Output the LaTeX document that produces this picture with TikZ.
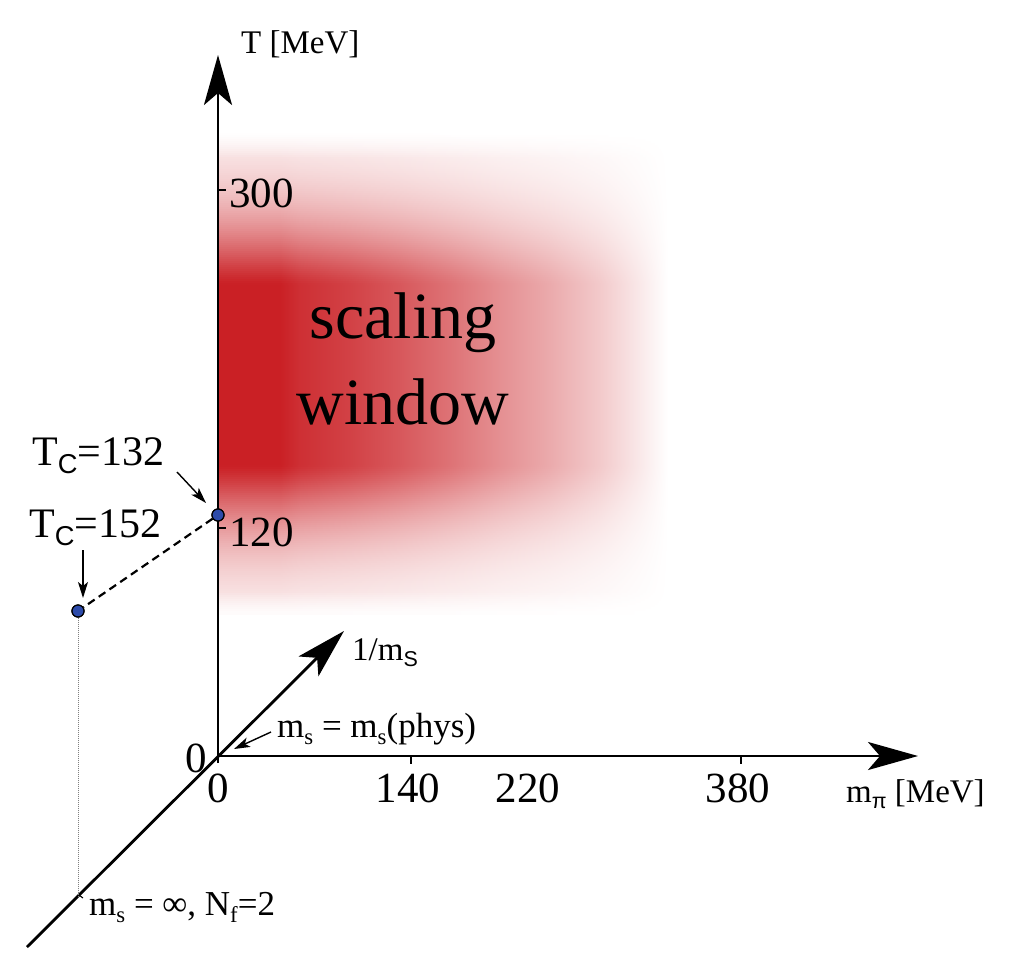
\documentclass[tikz,border=0pt]{standalone}
\usepackage{fontspec}
\usepackage{graphicx}
\setmainfont{Liberation Serif}
\newfontfamily\sansf{Liberation Sans}
\usetikzlibrary{arrows.meta}
\definecolor{wred}{RGB}{202,32,37}
\definecolor{dotblue}{RGB}{45,75,170}
\colorlet{stripc}{wred}
\pgfdeclarehorizontalshading[stripc]{stripsh}{100bp}{%
  color(0bp)=(stripc); color(25bp)=(stripc); color(31.9bp)=(stripc);
  color(34.1bp)=(stripc!93!white); color(39.7bp)=(stripc!85!white);
  color(45.2bp)=(stripc!75!white); color(50.8bp)=(stripc!63!white);
  color(56.3bp)=(stripc!50!white); color(61.9bp)=(stripc!38!white);
  color(67.4bp)=(stripc!24!white); color(71.9bp)=(stripc!10!white);
  color(75bp)=(white); color(100bp)=(white)}
\newcommand\lsub[1]{\raisebox{-0.2em}{\scalebox{0.65}{#1}}}
\begin{document}
\begin{tikzpicture}[x=1pt,y=-1pt,
  axis/.style={line width=2.8pt,-{Stealth[length=50pt,width=28pt,inset=12pt]}},
  smallarr/.style={line width=1.4pt,-{Stealth[length=16pt,width=10pt,inset=4pt]}},
  ticklbl/.style={inner sep=0pt,font=\fontsize{43}{50}\selectfont},
  axlbl/.style={inner sep=0pt,font=\fontsize{33}{40}\selectfont},
  note/.style={inner sep=0pt,font=\fontsize{35}{42}\selectfont},
  tclbl/.style={inner sep=0pt,font=\fontsize{42}{50}\selectfont},
  bigl/.style={inner sep=0pt,font=\fontsize{66}{80}\selectfont},
  tickmark/.style={line width=1.1pt},
  dot/.style={circle,minimum size=12pt,inner sep=0pt,fill=dotblue,draw=black,line width=1.2pt},
  dashln/.style={line width=2.2pt,dash pattern=on 8pt off 5pt},
  dotln/.style={line width=0.9pt,gray,dash pattern=on 1pt off 1pt}]
\useasboundingbox (0,0) rectangle (1016,966);
% red scaling window shading
\foreach \yy in {131,133,...,611} {
  \pgfmathsetmacro\dd{max(0,abs(\yy+1-375)-90)}
  \pgfmathsetmacro\vv{100*exp(-1*(\dd/75.5)^1.3)*min(1,max(0,(152-\dd)/25))}
  \colorlet{stripc}{wred!\vv!white}
  \shade[shading=stripsh] (218,\yy) rectangle (668,\yy+3);
}
% axes
\coordinate (O) at (218,756);
\coordinate (Ovt) at (218,763);
\coordinate (Ttip) at (218,55);
\coordinate (Xtip) at (918,756);
\coordinate (Dtip) at (344,631);
\coordinate (Dend) at (27,947);
\draw[axis] (Ovt) -- (Ttip);
\draw[axis] (O) -- (Xtip);
\draw[axis] (Dend) -- (Dtip);
% ticks
\draw[tickmark] (218,190) -- (226,190);
\draw[tickmark] (218,528) -- (226,528);
\draw[tickmark] (411,756) -- (411,764);
\draw[tickmark] (741,756) -- (741,764);
\draw[tickmark] (79,895) -- (83,898);
% tick labels
\node[ticklbl,anchor=base west] (t300) at (229,207) {300};
\node[ticklbl,anchor=base west] (t120) at (229,546) {120};
\node[ticklbl,anchor=base] (h140) at (408,802) {140};
\node[ticklbl,anchor=base] (h220) at (528,802) {220};
\node[ticklbl,anchor=base] (h380) at (738,802) {380};
\node[ticklbl,anchor=base] (z0b) at (218,802) {0};
\node[ticklbl,anchor=base] (z0l) at (196,772) {0};
% axis labels
\node[axlbl,anchor=base west] (Tlab) at (241,53) {T [MeV]};
\node[axlbl,anchor=base west] (mpi) at (846,802) {m\lsub{\sansf π} [MeV]};
\node[axlbl,anchor=base west] (invms) at (352,660) {1/m\lsub{\sansf S}};
\node[note,anchor=base west] (msphys) at (277,737) {m\lsub{s} = m\lsub{s}(phys)};
\node[note,anchor=base west] (msinf) at (89,915) {m\lsub{s} = ∞, N\lsub{f}=2};
% scaling window
\node[bigl,anchor=base] (sw1) at (403,338) {scaling};
\node[bigl,anchor=base] (sw2) at (403,424) {window};
% Tc points
\node[tclbl,anchor=base west] (tc132) at (32,465) {T\lsub{\sansf C}=132};
\node[tclbl,anchor=base west] (tc152) at (29,537) {T\lsub{\sansf C}=152};
\node[dot] (dA) at (218,515) {};
\node[dot] (dB) at (78,611) {};
\coordinate (dBfoot) at (78,896);
\draw[dotln] (dB) -- (dBfoot);
\draw[dashln] (dA) -- (dB);
\node[dot] at (dA) {};
\node[dot] at (dB) {};
\coordinate (a1s) at (177,472);
\coordinate (a1e) at (206,503);
\draw[smallarr] (a1s) -- (a1e);
\coordinate (a2s) at (83,550);
\coordinate (a2e) at (83,598);
\draw[smallarr] (a2s) -- (a2e);
\coordinate (a3s) at (271,732);
\coordinate (a3e) at (234,749);
\draw[smallarr] (a3s) -- (a3e);
\end{tikzpicture}
\end{document}
